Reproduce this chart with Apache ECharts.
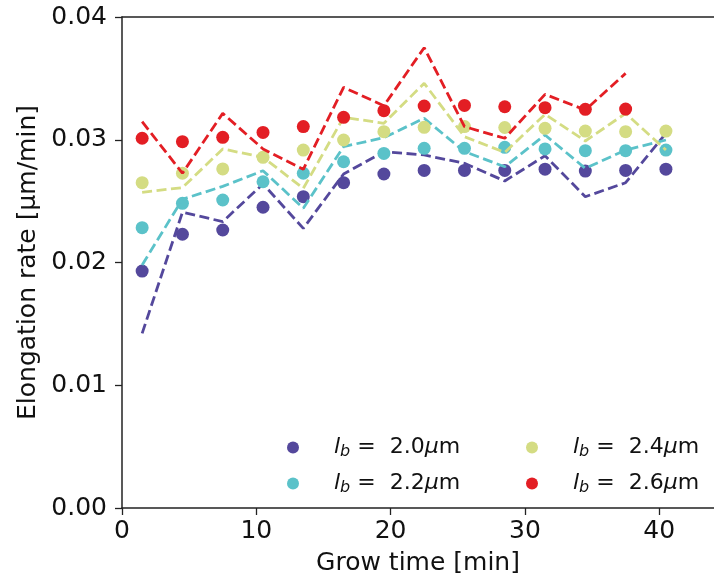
<!DOCTYPE html>
<html>
<head>
<meta charset="utf-8">
<script src="https://cdn.jsdelivr.net/npm/echarts@6/dist/echarts.min.js"></script>
<style>html,body{margin:0;padding:0;background:#fff;}#c{width:714px;height:581px;}</style>
</head>
<body>
<div id="c"></div>
<script>
const xTimes = [1.5, 4.5, 7.5, 10.5, 13.5, 16.5, 19.5, 22.5, 25.5, 28.5, 31.5, 34.5, 37.5, 40.5];
const groupNames = ['2.0', '2.2', '2.4', '2.6'];
const dots20 = [0.0193, 0.0223, 0.02265, 0.0245, 0.02536, 0.0265, 0.02721, 0.0275, 0.0275, 0.0275, 0.0276, 0.02745, 0.0275, 0.0276];
const dots22 = [0.02284, 0.02482, 0.02509, 0.02658, 0.02727, 0.02821, 0.02889, 0.0293, 0.0293, 0.02938, 0.02925, 0.02911, 0.02911, 0.02916];
const dots24 = [0.0265, 0.02727, 0.02762, 0.02857, 0.02916, 0.02998, 0.03066, 0.03101, 0.03107, 0.031, 0.03093, 0.03071, 0.03066, 0.03071];
const dots26 = [0.03012, 0.02984, 0.0302, 0.0306, 0.03107, 0.03183, 0.03237, 0.03275, 0.0328, 0.03269, 0.03261, 0.03248, 0.0325];
const line20 = [0.01423, 0.02409, 0.02333, 0.0264, 0.02278, 0.02721, 0.02903, 0.02876, 0.02808, 0.02664, 0.0287, 0.02536, 0.0265, 0.03052];
const line22 = [0.0198, 0.02515, 0.0262, 0.02748, 0.02442, 0.02944, 0.03017, 0.03175, 0.02903, 0.0278, 0.03039, 0.02767, 0.02916, 0.02998];
const line24 = [0.02572, 0.0261, 0.02925, 0.02857, 0.02604, 0.03183, 0.03134, 0.0346, 0.03025, 0.02897, 0.03207, 0.0299, 0.03215, 0.02916];
const line26 = [0.03147, 0.02727, 0.03215, 0.02925, 0.02759, 0.03427, 0.03277, 0.0375, 0.03107, 0.03012, 0.0337, 0.03242, 0.03541];
const xTicks = [0, 10, 20, 30, 40];
const yTicks = [0, 0.01, 0.02, 0.03, 0.04];

const colors = ['#54489c', '#5bc2c9', '#d4dc83', '#e31e24'];
const dotSets = [dots20, dots22, dots24, dots26];
const lineSets = [line20, line22, line24, line26];

const pair = (ys) => ys.map((y, i) => [xTimes[i], y]);
const series = [];
groupNames.forEach((g, k) => {
  series.push({
    name: g, type: 'scatter', data: pair(dotSets[k]), symbol: 'circle', symbolSize: 13,
    itemStyle: { color: colors[k], opacity: 1 }, z: 2 + k * 2
  });
  series.push({
    name: g + ' fit', type: 'line', data: pair(lineSets[k]), symbol: 'none', showSymbol: false,
    lineStyle: { color: colors[k], width: 2.8, type: [10, 4.5] }, z: 3 + k * 2, silent: true
  });
});

const FONT = 'DejaVu Sans';
const legendRich = {
  sp: { width: 30, fontSize: 22, fontFamily: FONT },
  i: { fontStyle: 'italic', fontSize: 22, fontFamily: FONT, color: '#111', lineHeight: 26 },
  sub: { fontStyle: 'italic', fontSize: 16, fontFamily: FONT, color: '#111', padding: [9, 0, 0, 0], lineHeight: 26 },
  n: { fontSize: 22, fontFamily: FONT, color: '#111', lineHeight: 26 }
};
const legendFmt = (name) => '{sp| }{i|l}{sub|b}{n| =  ' + name + '}{i|μ}{n|m}';
const legendBase = {
  orient: 'vertical', icon: 'circle', itemWidth: 12, itemHeight: 12, itemGap: 11, padding: 0,
  formatter: legendFmt, textStyle: { rich: legendRich, fontFamily: FONT, fontSize: 22 },
  selectedMode: false
};

const chart = echarts.init(document.getElementById('c'), null, { renderer: 'canvas' });
chart.setOption({
  backgroundColor: '#ffffff',
  animation: false,
  grid: { left: 122, top: 17, right: 0, bottom: 73, containLabel: false, outerBoundsMode: 'none' },
  legend: [
    Object.assign({}, legendBase, { left: 287, top: 435, data: [groupNames[0], groupNames[1]] }),
    Object.assign({}, legendBase, { left: 526, top: 435, data: [groupNames[2], groupNames[3]] })
  ],
  xAxis: [{
    type: 'value', min: 0, max: 44.08, position: 'bottom',
    name: 'Grow time [min]', nameLocation: 'middle', nameGap: 43, nameMoveOverlap: false,
    nameTextStyle: { fontFamily: FONT, fontSize: 25, color: '#111' },
    axisLine: { show: true, onZero: false, lineStyle: { color: '#222', width: 1.5 } },
    axisTick: { show: true, length: 7, inside: false, customValues: xTicks, lineStyle: { color: '#222', width: 1.3 } },
    axisLabel: { customValues: xTicks, margin: 11, fontFamily: FONT, fontSize: 25, color: '#111' },
    splitLine: { show: false }
  }, {
    type: 'value', min: 0, max: 44.08, position: 'top',
    axisLine: { show: true, onZero: false, lineStyle: { color: '#222', width: 1.5 } },
    axisTick: { show: false }, axisLabel: { show: false }, splitLine: { show: false }
  }],
  yAxis: {
    type: 'value', min: 0, max: 0.04, interval: 0.01,
    name: 'Elongation rate [μm/min]', nameLocation: 'middle', nameGap: 81, nameMoveOverlap: false,
    nameTextStyle: { fontFamily: FONT, fontSize: 25, color: '#111' },
    axisLine: { show: true, onZero: false, lineStyle: { color: '#222', width: 1.5 } },
    axisTick: { show: true, length: 7, inside: false, lineStyle: { color: '#222', width: 1.3 } },
    axisLabel: { margin: 15, fontFamily: FONT, fontSize: 25, color: '#111', formatter: (v) => v.toFixed(2) },
    splitLine: { show: false }
  },
  series: series
});
</script>
</body>
</html>
